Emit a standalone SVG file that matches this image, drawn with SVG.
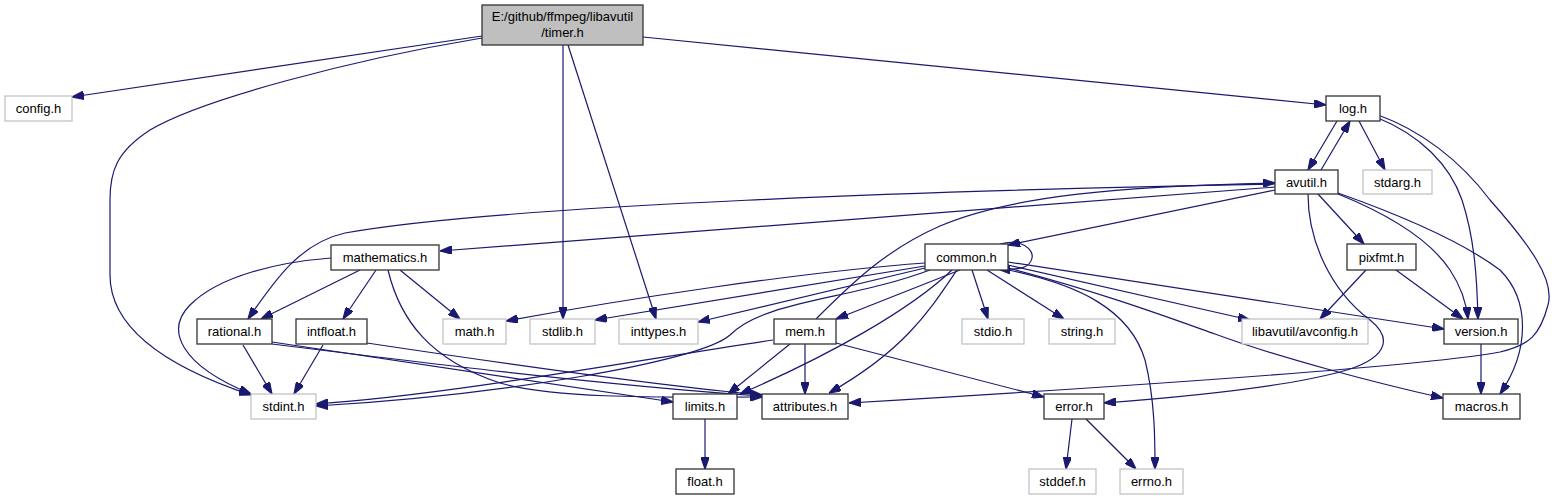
<svg xmlns="http://www.w3.org/2000/svg" width="1555" height="500" viewBox="0 0 1555 500">
<defs>
<style>
.n rect{fill:#fff;stroke:#333;stroke-width:1.3}
.g rect{fill:#fff;stroke:#bfbfbf;stroke-width:1.2}
text{font-family:"Liberation Sans",Arial,sans-serif;font-size:13px;fill:#000;text-anchor:middle}
.e path{fill:none;stroke:#191970;stroke-width:1.2;marker-end:url(#ah)}
</style>
<marker id="ah" markerUnits="userSpaceOnUse" viewBox="0 0 10 7" refX="10" refY="3.5" markerWidth="12" markerHeight="8.4" orient="auto">
<path d="M0,0 L10,3.5 L0,7 Z" fill="#191970" stroke="#191970"/>
</marker>
</defs>
<rect width="1555" height="500" fill="#fff"/>
<g id="edges" class="e">
<path d="M482,36 L72,97"/>
<path d="M482,38 C350,60 200,100 150,130 C116,152 110,172 110,200 L110,275 C110,330 170,368 251,395"/>
<path d="M563,45 L563,319"/>
<path d="M568,45 L656,319"/>
<path d="M643,37 L1326,105"/>
<path d="M1337,121 L1308,170"/>
<path d="M1321,170 L1350,121"/>
<path d="M1359,121 L1385,170"/>
<path d="M1378,118 C1420,135 1450,165 1462,200 C1475,240 1477,280 1478,319"/>
<path d="M1378,115 C1420,130 1460,160 1490,200 C1530,245 1555,280 1548,305 C1540,335 1530,345 1500,352 C1430,365 1150,385 849,403"/>
<path d="M1275,184 C950,190 500,205 345,233 C300,243 275,280 248,319"/>
<path d="M1275,187 L440,251"/>
<path d="M816,319 C850,285 885,250 940,226 C1010,196 1120,186 1275,183"/>
<path d="M1275,190 L1008,245"/>
<path d="M1318,194 L1364,244"/>
<path d="M1338,194 C1390,215 1430,240 1450,270 C1460,285 1466,300 1468,319"/>
<path d="M1338,193 C1400,215 1460,240 1500,270 C1530,300 1530,350 1500,394"/>
<path d="M1308,194 C1308,240 1330,290 1370,320 C1395,340 1385,360 1340,372 C1280,388 1170,398 1104,403"/>
<path d="M1000,244 C1022,238 1034,250 1032,258 C1030,268 1020,270 998,269"/>
<path d="M925,263 C800,272 620,300 506,321"/>
<path d="M925,266 L595,320"/>
<path d="M925,268 L698,322"/>
<path d="M930,270 C850,300 765,300 730,335 C700,362 500,395 316,406"/>
<path d="M773,340 C650,358 450,395 316,404"/>
<path d="M960,270 L836,319"/>
<path d="M952,270 C910,310 830,355 740,394"/>
<path d="M957,270 C930,310 905,350 829,393"/>
<path d="M972,270 L988,319"/>
<path d="M987,270 L1064,319"/>
<path d="M1008,265 L1250,320"/>
<path d="M1008,262 L1444,329"/>
<path d="M1008,268 C1100,292 1170,318 1215,334 C1280,358 1380,384 1443,398"/>
<path d="M1008,270 C1080,285 1130,310 1145,360 C1155,400 1155,440 1155,469"/>
<path d="M790,344 L728,394"/>
<path d="M805,344 L805,394"/>
<path d="M836,343 L1044,397"/>
<path d="M243,345 L272,394"/>
<path d="M272,342 L673,402"/>
<path d="M272,344 C400,360 600,385 762,396"/>
<path d="M323,345 L294,394"/>
<path d="M367,343 C480,360 650,385 762,395"/>
<path d="M400,270 L460,319"/>
<path d="M360,270 L261,319"/>
<path d="M376,270 L343,319"/>
<path d="M388,270 C400,320 430,360 500,383 C560,400 680,397 762,397"/>
<path d="M331,258 C280,262 220,275 190,305 C165,330 180,365 251,394"/>
<path d="M1366,270 L1320,319"/>
<path d="M1396,270 L1463,319"/>
<path d="M1481,344 L1481,394"/>
<path d="M705,419 L705,469"/>
<path d="M1072,419 L1066,469"/>
<path d="M1086,419 L1136,469"/>
</g>
<g id="timer_h"><rect x="482" y="5" width="161" height="40" fill="#bfbfbf" stroke="#333" stroke-width="1.3"/><text x="562.5" y="21">E:/github/ffmpeg/libavutil</text><text x="562.5" y="37">/timer.h</text></g>
<g id="config_h" class="g"><rect x="5" y="96" width="67" height="25"/><text x="38.5" y="113">config.h</text></g>
<g id="log_h" class="n"><rect x="1326" y="96" width="54" height="25"/><text x="1353" y="113">log.h</text></g>
<g id="avutil_h" class="n"><rect x="1275" y="170" width="63" height="24"/><text x="1306.5" y="186.5">avutil.h</text></g>
<g id="stdarg_h" class="g"><rect x="1363" y="170" width="69" height="24"/><text x="1397.5" y="186.5">stdarg.h</text></g>
<g id="mathematics_h" class="n"><rect x="331" y="245" width="108" height="25"/><text x="385" y="262">mathematics.h</text></g>
<g id="common_h" class="n"><rect x="925" y="244" width="83" height="26"/><text x="966.5" y="261.5">common.h</text></g>
<g id="pixfmt_h" class="n"><rect x="1347" y="244" width="69" height="26"/><text x="1381.5" y="261.5">pixfmt.h</text></g>
<g id="rational_h" class="n"><rect x="197" y="319" width="75" height="25"/><text x="234.5" y="336">rational.h</text></g>
<g id="intfloat_h" class="n"><rect x="296" y="319" width="71" height="25"/><text x="331.5" y="336">intfloat.h</text></g>
<g id="math_h" class="g"><rect x="443" y="319" width="63" height="25"/><text x="474.5" y="336">math.h</text></g>
<g id="stdlib_h" class="g"><rect x="530" y="319" width="65" height="25"/><text x="562.5" y="336">stdlib.h</text></g>
<g id="inttypes_h" class="g"><rect x="619" y="319" width="79" height="25"/><text x="658.5" y="336">inttypes.h</text></g>
<g id="mem_h" class="n"><rect x="774" y="319" width="62" height="25"/><text x="805" y="336">mem.h</text></g>
<g id="stdio_h" class="g"><rect x="962" y="319" width="62" height="25"/><text x="993" y="336">stdio.h</text></g>
<g id="string_h" class="g"><rect x="1049" y="319" width="66" height="25"/><text x="1082" y="336">string.h</text></g>
<g id="avconfig_h" class="g"><rect x="1242" y="319" width="126" height="25"/><text x="1305" y="336">libavutil/avconfig.h</text></g>
<g id="version_h" class="n"><rect x="1444" y="319" width="74" height="25"/><text x="1481" y="336">version.h</text></g>
<g id="stdint_h" class="g"><rect x="251" y="394" width="65" height="25"/><text x="283.5" y="411">stdint.h</text></g>
<g id="limits_h" class="n"><rect x="673" y="394" width="64" height="25"/><text x="705" y="411">limits.h</text></g>
<g id="attributes_h" class="n"><rect x="762" y="394" width="86" height="25"/><text x="805" y="411">attributes.h</text></g>
<g id="error_h" class="n"><rect x="1044" y="394" width="60" height="25"/><text x="1074" y="411">error.h</text></g>
<g id="macros_h" class="n"><rect x="1443" y="394" width="77" height="25"/><text x="1481.5" y="411">macros.h</text></g>
<g id="float_h" class="n"><rect x="676" y="469" width="58" height="25"/><text x="705" y="486">float.h</text></g>
<g id="stddef_h" class="g"><rect x="1029" y="469" width="67" height="25"/><text x="1062.5" y="486">stddef.h</text></g>
<g id="errno_h" class="g"><rect x="1120" y="469" width="63" height="25"/><text x="1151.5" y="486">errno.h</text></g>
</svg>
